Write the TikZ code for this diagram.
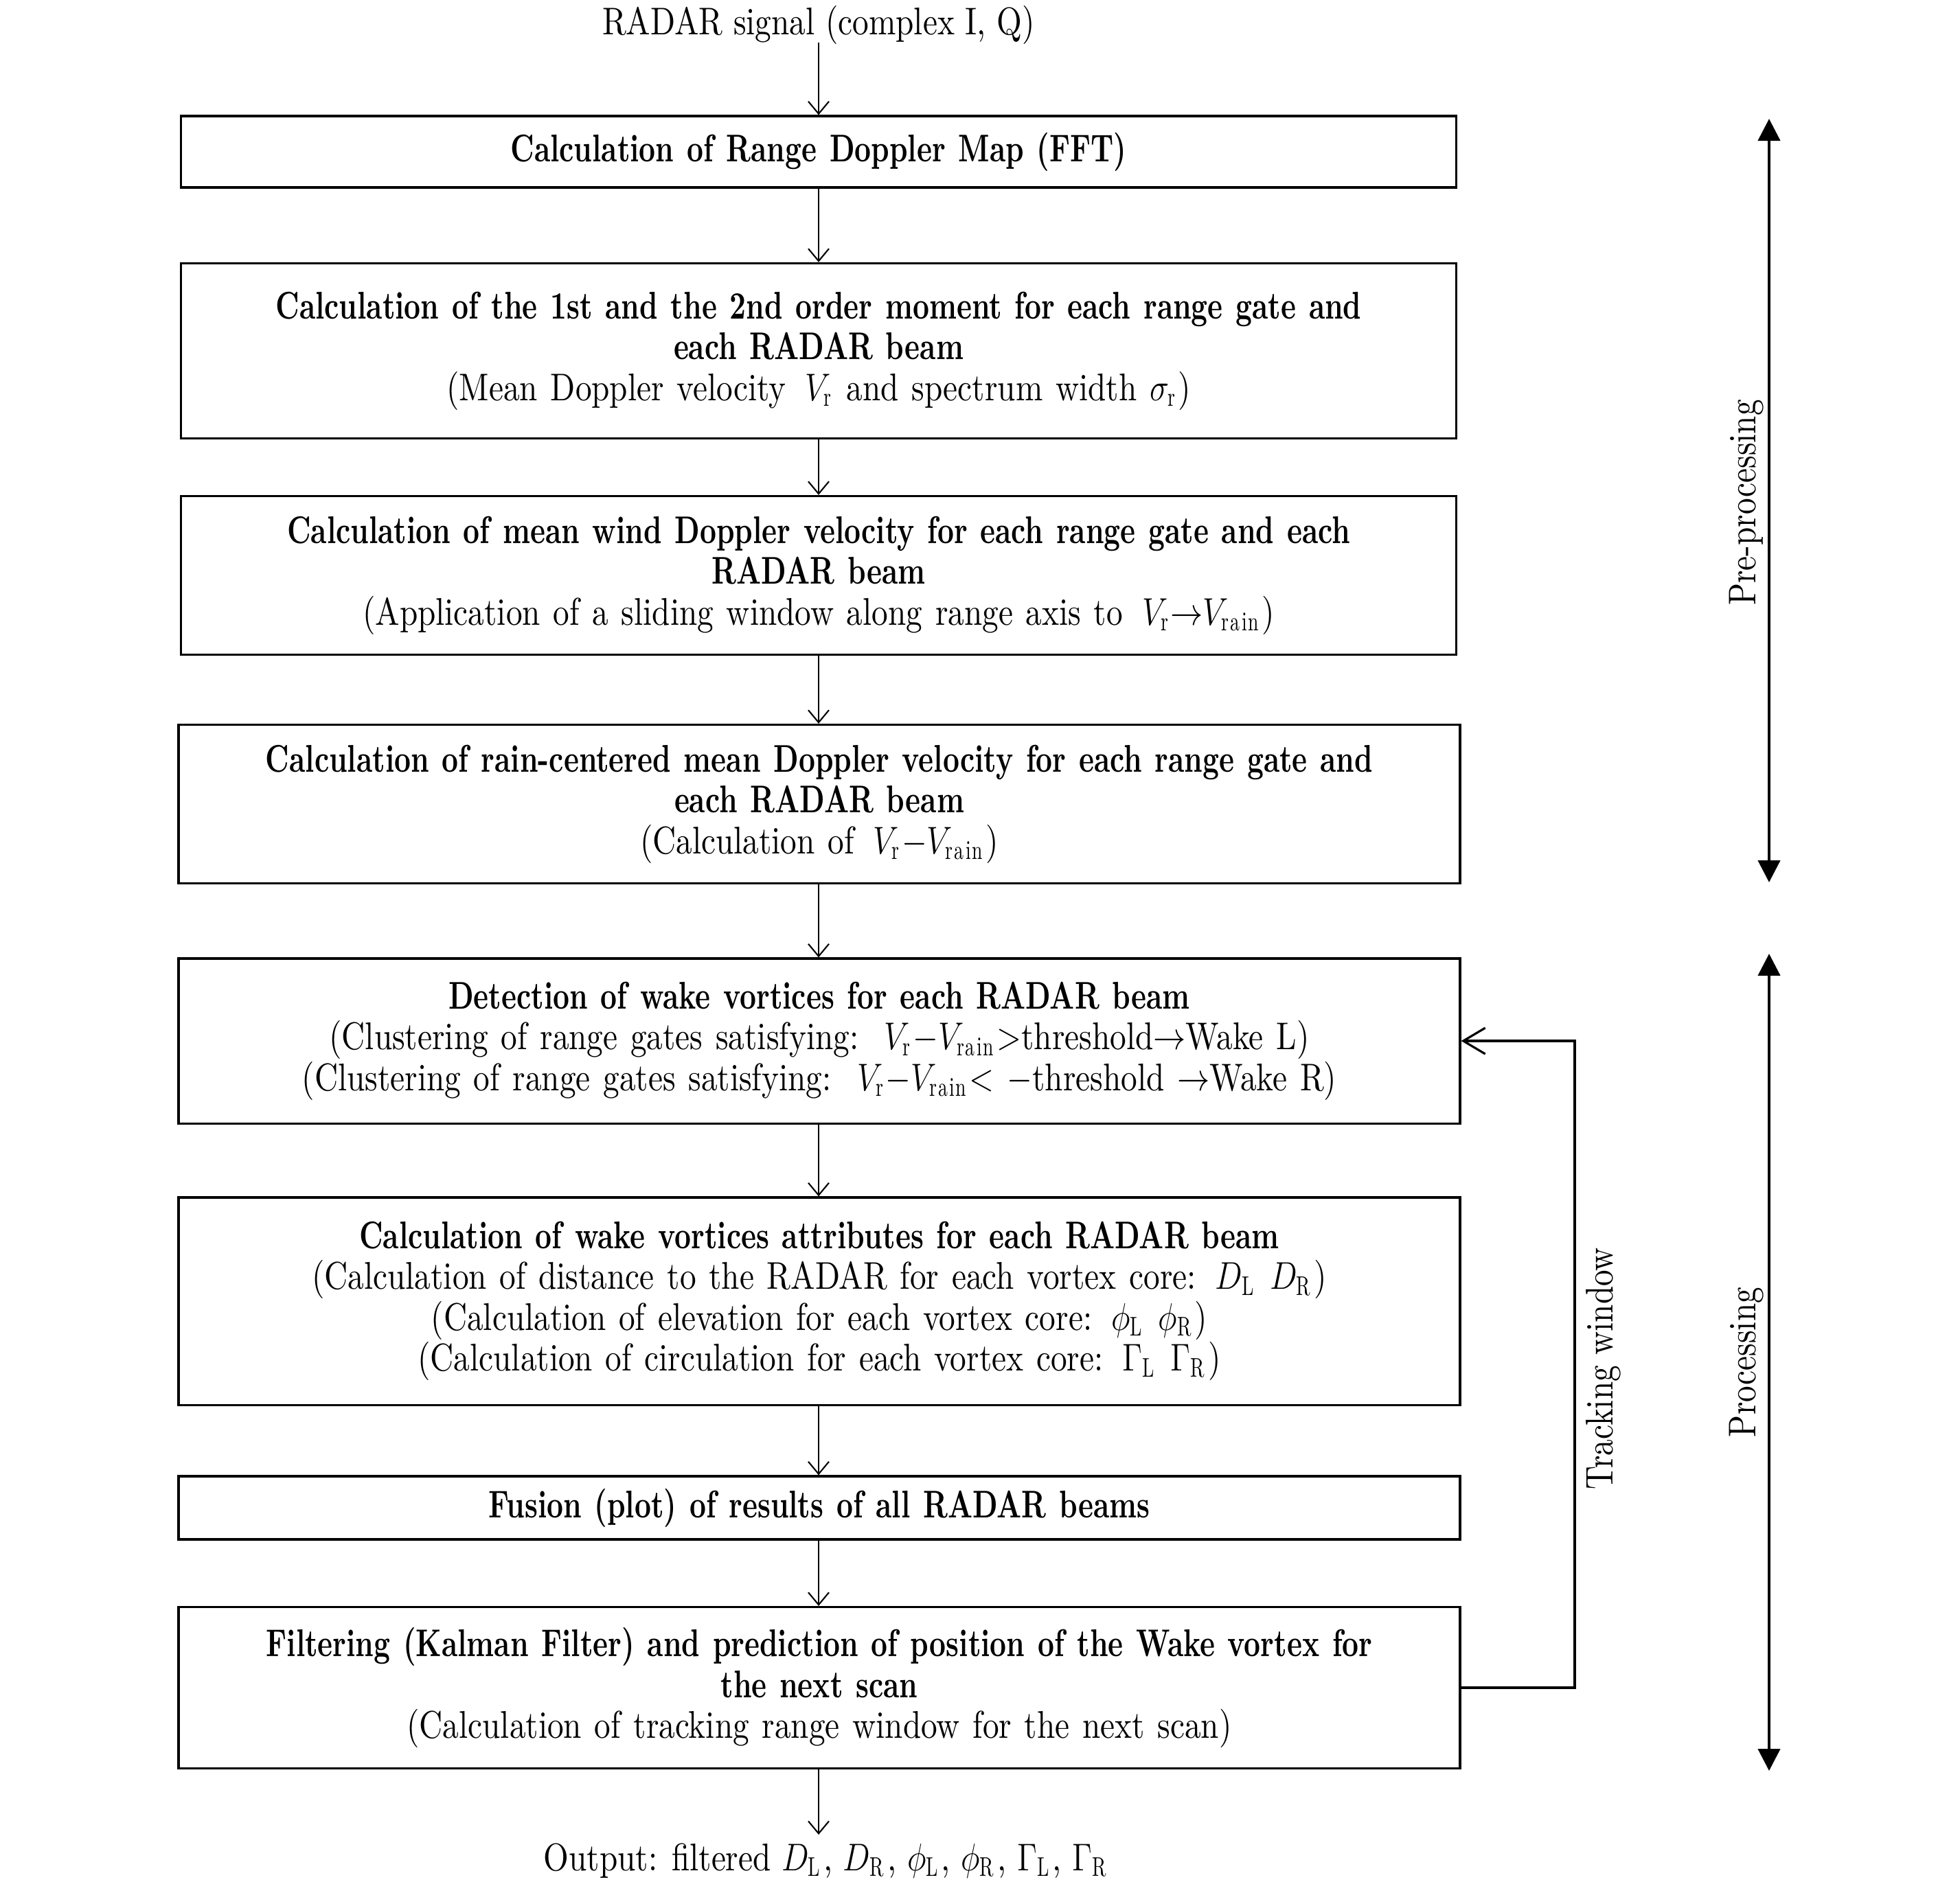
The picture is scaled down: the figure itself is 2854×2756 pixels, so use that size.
\documentclass[tikz,border=0pt]{standalone}
\usepackage{fix-cm}
\usepackage{graphicx}
\usepackage{fontspec}
\setmainfont{lmroman10-regular.otf}[BoldFont=lmroman10-bold.otf, ItalicFont=lmroman10-italic.otf, FakeStretch=0.84]
\newfontfamily\bfcond{lmroman10-bold.otf}[FakeStretch=0.74]
\usetikzlibrary{arrows.meta}
\newcommand{\B}[1]{{\bfcond #1}}
\newcommand{\M}[1]{\scalebox{0.84}[1]{$#1$}}
\newcommand{\rmsub}[1]{_{\mathrm{#1}}}
\begin{document}
\begin{tikzpicture}[x=0.01cm,y=-0.01cm,
  box/.style={draw, line width=0.9pt, minimum width=#1*0.01cm, inner sep=0pt, align=center, font=\fontsize{16}{16.9}\selectfont, text width=#1*0.01cm-8pt},
  plain/.style={font=\fontsize{16}{16.9}\selectfont, inner sep=0pt},
  flow/.style={line width=0.6pt, -{Straight Barb[length=0.18cm,width=0.3cm,line width=0.6pt]}},
  phase/.style={line width=1.2pt, {Triangle[length=0.32cm,width=0.32cm]}-{Triangle[length=0.32cm,width=0.32cm]}},
  lbl/.style={font=\fontsize{16}{16.9}\selectfont, rotate=90, inner sep=0pt}
]
\useasboundingbox (0,0) rectangle (2854,2756);
\node[plain] (in) at (1192,36) {RADAR signal (complex I, Q)};
\node[box=1857, minimum height=1.04cm] (b1) at (1192,221) {\B{Calculation of Range Doppler Map (FFT)}};
\node[box=1857, minimum height=2.55cm] (b2) at (1192,511) {\B{Calculation of the 1st and the 2nd order moment for each range gate and}\\ \B{each RADAR beam}\\ (Mean Doppler velocity \,\M{V\rmsub{r}} and spectrum width \M{\sigma\rmsub{r}})};
\node[box=1857, minimum height=2.31cm] (b3) at (1192,838) {\B{Calculation of mean wind Doppler velocity for each range gate and each}\\ \B{RADAR beam}\\ (Application of a sliding window along range axis to \,\M{V\rmsub{r}{\rightarrow}V\rmsub{rain}})};
\node[box=1866, minimum height=2.31cm] (b4) at (1193,1171) {\B{Calculation of rain-centered mean Doppler velocity for each range gate and}\\ \B{each RADAR beam}\\ (Calculation of \,\M{V\rmsub{r}{-}V\rmsub{rain}})};
\node[box=1866, minimum height=2.40cm] (b5) at (1193,1516) {\B{Detection of wake vortices for each RADAR beam}\\ (Clustering of range gates satisfying: \,\M{V\rmsub{r}{-}V\rmsub{rain}{>}}threshold\M{\rightarrow}Wake L)\\ (Clustering of range gates satisfying: \,\M{V\rmsub{r}{-}V\rmsub{rain}{<}} \M{-}threshold \M{\rightarrow}Wake R)};
\node[box=1866, minimum height=3.02cm] (b6) at (1193,1895) {\B{Calculation of wake vortices attributes for each RADAR beam}\\ (Calculation of distance to the RADAR for each vortex core: \M{D\rmsub{L}} \M{D\rmsub{R}})\\ (Calculation of elevation for each vortex core: \M{\phi\rmsub{L}} \M{\phi\rmsub{R}})\\ (Calculation of circulation for each vortex core: \M{\Gamma\rmsub{L}} \M{\Gamma\rmsub{R}})};
\node[box=1866, minimum height=0.92cm] (b7) at (1193,2196) {\B{Fusion (plot) of results of all RADAR beams}};
\node[box=1866, minimum height=2.35cm] (b8) at (1193,2458) {\B{Filtering (Kalman Filter) and prediction of position of the Wake vortex for}\\ \B{the next scan}\\ (Calculation of tracking range window for the next scan)};
\node[plain] (out) at (1204,2710) {Output: filtered \M{D\rmsub{L}}, \M{D\rmsub{R}}, \M{\phi\rmsub{L}}, \M{\phi\rmsub{R}}, \M{\Gamma\rmsub{L}}, \M{\Gamma\rmsub{R}}};
\coordinate (outtop) at (1192,2672);
\coordinate (intop) at (1192,62);
\draw[flow] (intop) -- (b1.north -| intop);
\draw[flow] (b1.south -| intop) -- (b2.north -| intop);
\draw[flow] (b2.south -| intop) -- (b3.north -| intop);
\draw[flow] (b3.south -| intop) -- (b4.north -| intop);
\draw[flow] (b4.south -| intop) -- (b5.north -| intop);
\draw[flow] (b5.south -| intop) -- (b6.north -| intop);
\draw[flow] (b6.south -| intop) -- (b7.north -| intop);
\draw[flow] (b7.south -| intop) -- (b8.north -| intop);
\draw[flow] (b8.south -| intop) -- (outtop);
% feedback
\coordinate (fbx) at (2293,0);
\draw[line width=0.9pt, -{Straight Barb[length=0.32cm,width=0.38cm,line width=0.9pt]}] (b8.east) -- (b8.east -| fbx) -- (b5.east -| fbx) -- (b5.east);
\node[lbl] (tw) at (2335,1993) {Tracking window};
% phases
\coordinate (p1t) at (2576,173);
\coordinate (p1b) at (2576,1285);
\coordinate (p2t) at (2576,1389);
\coordinate (p2b) at (2576,2579);
\draw[phase] (p1t) -- (p1b);
\draw[phase] (p2t) -- (p2b);
\node[lbl] (pre) at (2543,732) {Pre-processing};
\node[lbl] (pro) at (2543,1984) {Processing};
\end{tikzpicture}
\end{document}
